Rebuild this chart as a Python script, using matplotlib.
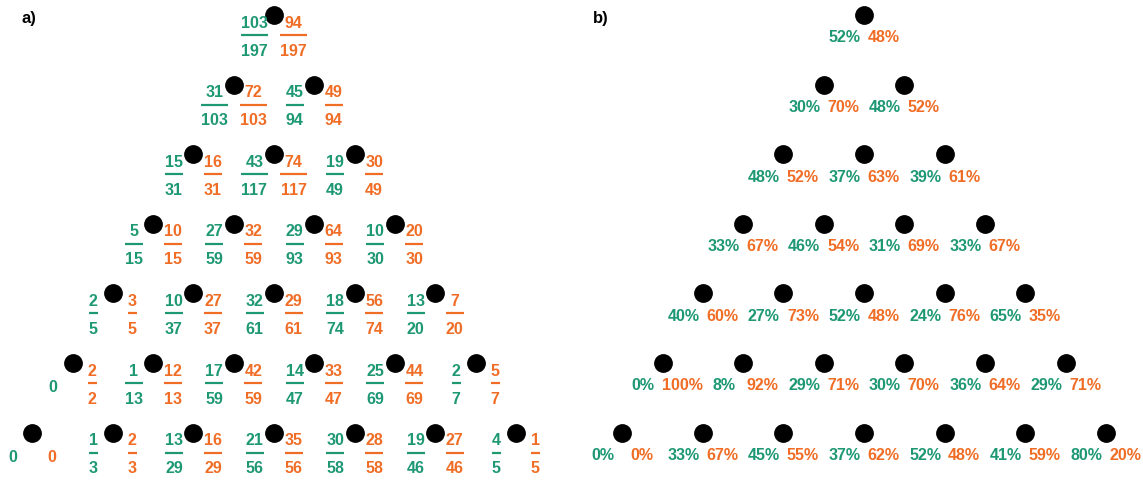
import numpy as np
import matplotlib.pyplot as plt

# Datos panel a): numeradores y denominadores por fila (verde = izquierda, naranja = derecha)
verde_num = [[103], [31, 45], [15, 43, 19], [5, 27, 29, 10], [2, 10, 32, 18, 13],
             [0, 1, 17, 14, 25, 2], [0, 1, 13, 21, 30, 19, 4]]
verde_den = [[197], [103, 94], [31, 117, 49], [15, 59, 93, 30], [5, 37, 61, 74, 20],
             [2, 13, 59, 47, 69, 7], [0, 3, 29, 56, 58, 46, 5]]
naranja_num = [[94], [72, 49], [16, 74, 30], [10, 32, 64, 20], [3, 27, 29, 56, 7],
               [2, 12, 42, 33, 44, 5], [0, 2, 16, 35, 28, 27, 1]]
naranja_den = [[197], [103, 94], [31, 117, 49], [15, 59, 93, 30], [5, 37, 61, 74, 20],
               [2, 13, 59, 47, 69, 7], [0, 3, 29, 56, 58, 46, 5]]

# Datos panel b): porcentajes
verde_pct = [[52], [30, 48], [48, 37, 39], [33, 46, 31, 33], [40, 27, 52, 24, 65],
             [0, 8, 29, 30, 36, 29], [0, 33, 45, 37, 52, 41, 80]]
naranja_pct = [[48], [70, 52], [52, 63, 61], [67, 54, 69, 67], [60, 73, 48, 76, 35],
               [100, 92, 71, 70, 64, 71], [0, 67, 55, 62, 48, 59, 20]]

verde = '#1e9873'
naranja = '#f06d26'
fuente = 'Liberation Sans'
fs = 11.5

fig = plt.figure(figsize=(11.43, 4.82), dpi=100)
ax = fig.add_axes([0, 0, 1, 1])
ax.set_xlim(0, 1143)
ax.set_ylim(482, 0)
ax.axis('off')

dx = 80.6
dy = 69.6
y0 = 15
off = 19.5


def pos(cx, i, j):
    return cx + (j - i / 2) * dx, y0 + i * dy


def fraccion(x, y, num, den, color):
    if num == 0:
        ax.text(x, y + 25, '0', color=color, ha='center', va='center',
                fontsize=fs, fontweight='bold', family=fuente)
        return
    ax.text(x, y + 8, str(num), color=color, ha='center', va='center',
            fontsize=fs, fontweight='bold', family=fuente)
    ax.text(x, y + 36, str(den), color=color, ha='center', va='center',
            fontsize=fs, fontweight='bold', family=fuente)
    w = max(len(str(num)), len(str(den))) * 9.0
    ax.plot([x - w / 2, x + w / 2], [y + 20, y + 20], color=color, lw=1.6,
            solid_capstyle='butt')


# Panel a)
for i in range(7):
    for j in range(i + 1):
        x, y = pos(274, i, j)
        ax.plot(x, y, 'o', color='black', ms=12.5)
        fraccion(x - off, y, verde_num[i][j], verde_den[i][j], verde)
        fraccion(x + off, y, naranja_num[i][j], naranja_den[i][j], naranja)

# Panel b)
for i in range(7):
    for j in range(i + 1):
        x, y = pos(864, i, j)
        ax.plot(x, y, 'o', color='black', ms=12.5)
        ax.text(x - off, y + 23, '{}%'.format(verde_pct[i][j]), color=verde,
                ha='center', va='center', fontsize=fs, fontweight='bold', family=fuente)
        ax.text(x + off, y + 23, '{}%'.format(naranja_pct[i][j]), color=naranja,
                ha='center', va='center', fontsize=fs, fontweight='bold', family=fuente)

ax.text(22, 18, 'a)', ha='left', va='center', fontsize=12, fontweight='bold', family=fuente)
ax.text(593, 18, 'b)', ha='left', va='center', fontsize=12, fontweight='bold', family=fuente)

fig.savefig('out.png', dpi=100)
